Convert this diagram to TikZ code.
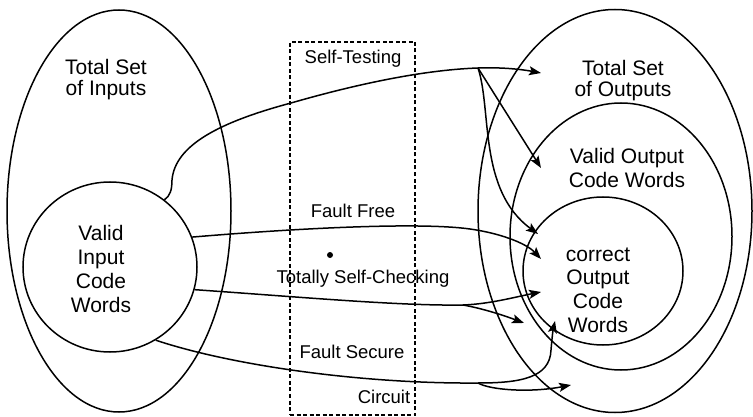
\documentclass[tikz,border=0pt]{standalone}
\usepackage{fontspec}
\setmainfont{Liberation Sans}
\usetikzlibrary{shapes.geometric,arrows.meta}
\begin{document}
\begin{tikzpicture}[x=1pt,y=-1pt,line width=1.5pt,
  set/.style={draw,ellipse,inner sep=0pt},
  arr/.style={-{Stealth[length=12pt,width=9pt,inset=2.5pt]}},
  biglabel/.style={align=center,font=\fontsize{21}{24}\selectfont},
  smalllabel/.style={anchor=base,font=\fontsize{18.5}{20}\selectfont}]
\useasboundingbox (0,0) rectangle (753,417);

% input side
\node[set,minimum width=224pt,minimum height=402pt] (inputs) at (119,211) {};
\node[set,minimum width=174pt,minimum height=170pt] (vin) at (110,267) {};
\node[biglabel,font=\fontsize{21}{21}\selectfont] (tin) at (106,80) {Total Set\\of Inputs};
\node[biglabel,font=\fontsize{21}{24.3}\selectfont] (lvin) at (101,269) {Valid\\Input\\Code\\Words};

% output side
\node[set,minimum width=274pt,minimum height=403pt] (outputs) at (615,211) {};
\node[set,minimum width=222pt,minimum height=267pt] (vout) at (621,236.5) {};
\node[set,minimum width=160pt,minimum height=148pt] (cout) at (603,271) {};
\node[biglabel,font=\fontsize{21}{21}\selectfont] (tout) at (623,81) {Total Set\\of Outputs};
\node[biglabel] (lvout) at (627,167.5) {Valid Output\\Code Words};
\node[biglabel,font=\fontsize{21}{23.7}\selectfont] (lcout) at (598,290) {correct\\Output\\Code\\Words};

% the circuit
\node[draw,line width=1.6pt,dash pattern=on 4pt off 2.5pt,minimum width=125pt,minimum height=373pt,inner sep=0pt] (box) at (352.5,228.5) {};
\node[smalllabel] (st) at (353,64) {Self-Testing};
\node[smalllabel] (ff) at (353,218) {Fault Free};
\node[smalllabel] (tsc) at (363,283) {Totally Self-Checking};
\node[smalllabel] (fs) at (352,358) {Fault Secure};
\node[smalllabel] (cc) at (384,403) {Circuit};
\fill (330,255) circle (3pt);

% branch points and arrow ends
\coordinate (j1) at (478,68);
\coordinate (t1) at (541,73);
\coordinate (t2) at (541,168);
\coordinate (t3) at (538,234);
\coordinate (t4) at (541,259);
\coordinate (j2) at (463,305);
\coordinate (t5) at (541,292);
\coordinate (t6) at (524,323);
\coordinate (j3) at (478,383);
\coordinate (t7) at (555,321);
\coordinate (t8) at (571,385);

% self-testing
\draw[arr] (vin.51) .. controls (170,196) and (172,190) .. (172,180)
  .. controls (175,145) and (220,122) .. (291,103)
  .. controls (350,86) and (420,70) .. (j1)
  .. controls (505,67) and (525,70) .. (t1);
\draw[arr] (j1) -- (t2);
\draw[arr] (j1) .. controls (492,110) and (478,190) .. (t3);

% fault free
\draw[arr] (vin.20) .. controls (300,228) and (420,222) .. (470,229)
  .. controls (505,234) and (528,245) .. (t4);

% totally self-checking
\draw[arr] (vin.-15) .. controls (300,297) and (400,306) .. (j2)
  .. controls (490,304) and (515,297) .. (t5);
\draw[arr] (j2) .. controls (480,308) and (500,314) .. (t6);

% fault secure
\draw[arr] (vin.-58) .. controls (230,365) and (360,384) .. (j3)
  .. controls (520,383) and (550,378) .. (551,350)
  .. controls (552,338) and (553,330) .. (t7);
\draw[arr] (j3) .. controls (490,390) and (530,393) .. (t8);
\end{tikzpicture}
\end{document}
